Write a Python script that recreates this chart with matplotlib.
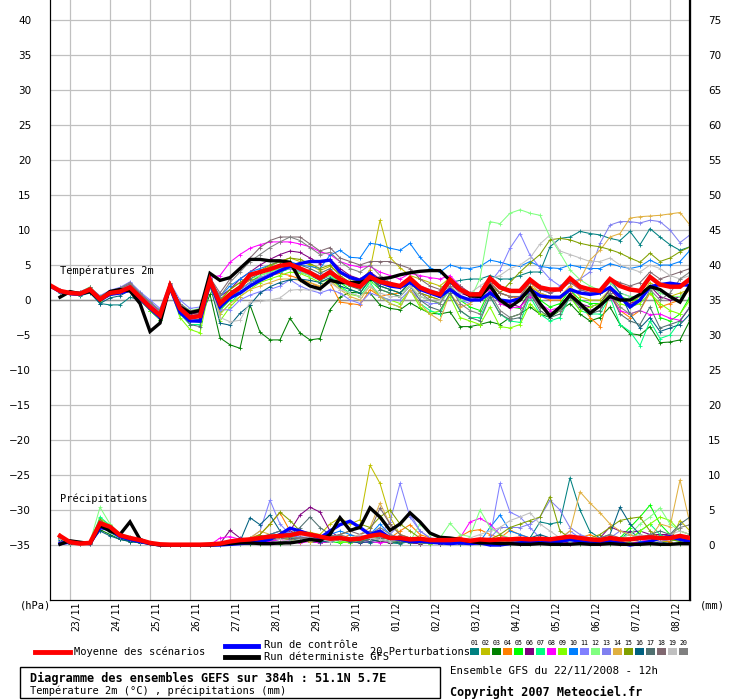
import numpy as np
import matplotlib
matplotlib.use("Agg")
from matplotlib import pyplot as plt
from matplotlib.lines import Line2D
from matplotlib.patches import Rectangle
from matplotlib.transforms import ScaledTranslation

nan = np.nan

# time axis: hours after 22/11/2008 12h, one value every 6 h
hours = np.arange(0, 385, 6)
day_ticks = np.arange(12, 384, 24)
day_labels = ["23/11", "24/11", "25/11", "26/11", "27/11", "28/11", "29/11", "30/11",
              "01/12", "02/12", "03/12", "04/12", "05/12", "06/12", "07/12", "08/12"]

# ---- temperature 2m (C) ----
temp_mean = [2.1, 1.3, 1.0, 0.9, 1.5, 0.1, 1.0, 1.2, 1.8, 0.4, -1.0, -2.2, 2.0,
             -1.2, -2.5, -2.3, 2.8, -0.5, 0.8, 1.8, 3.6, 4.0, 4.4, 4.9, 5.1, 4.5,
             3.9, 3.1, 4.0, 3.0, 2.3, 1.9, 3.3, 2.6, 2.3, 2.0, 3.1, 1.8, 1.2,
             0.8, 2.9, 1.5, 0.8, 0.8, 3.1, 1.8, 1.3, 1.3, 2.9, 1.8, 1.5, 1.5,
             3.1, 1.9, 1.5, 1.3, 3.0, 2.0, 1.5, 1.3, 3.3, 2.2, 1.9, 1.9, 3.0]
temp_ctrl = [2.0, 1.2, 0.9, 0.8, 1.3, 0.0, 0.8, 1.0, 1.4, 0.2, -1.2, -2.5, 1.8,
             -1.8, -3.0, -3.0, 2.5, -1.0, 0.3, 1.0, 2.0, 2.8, 3.5, 4.2, 4.8, 5.2,
             5.5, 5.5, 5.7, 4.0, 3.2, 2.8, 3.8, 2.5, 2.0, 1.8, 2.5, 1.5, 1.0,
             0.5, 1.5, 0.5, 0.0, 0.0, 1.0, 0.0, -0.2, 0.2, 1.5, 0.6, 0.4, 0.4,
             1.5, 1.0, 0.8, 1.0, 1.8, 0.5, -1.0, 0.0, 1.9, 2.2, 2.4, 2.2, 2.1]
temp_det = [nan, 0.4, 1.2, 0.9, 1.2, 0.0, 1.2, 1.5, 1.3, -0.5, -4.5, -3.3, 2.0,
            -1.0, -1.8, -1.5, 3.8, 2.8, 3.2, 4.5, 5.8, 5.8, 5.6, 5.6, 5.4, 2.9,
            2.0, 1.6, 2.8, 2.5, 2.5, 2.5, 3.0, 3.0, 3.2, 3.6, 3.9, 4.1, 4.2,
            4.2, 2.8, 1.5, 0.6, 0.5, 2.0, 0.0, -1.0, 0.0, 1.7, -0.5, -2.3, -1.0,
            0.7, -0.5, -1.9, -0.8, 0.5, 0.0, 0.0, 0.8, 1.9, 1.5, 0.5, -0.3, 2.1]

temp_p01 = [2.0, 1.0, 0.8, 0.6, 1.0, -0.5, -0.7, -0.7, 0.4, 0.0, -1.5, -2.8, 1.5, -1.8, -3.0, -3.2, 2.2,
            -1.0, 0.5, 1.5, 2.5, 3.0, 3.5, 4.0, 4.5, 4.0, 3.5, 2.8, 3.5, 2.5, 2.0, 1.8, 3.0,
            2.5, 2.0, 1.8, 2.8, 1.5, 1.0, 0.5, 2.5, 2.8, 3.0, 3.0, 3.5, 3.0, 3.0, 3.5, 4.0,
            4.0, 7.6, 8.8, 9.0, 9.8, 9.5, 9.3, 8.8, 8.5, 9.8, 7.9, 10.2, 9.0, 7.9, 7.1, 7.6]
temp_p02 = [2.1, 1.3, 1.1, 1.0, 1.8, 0.3, 1.2, 1.5, 2.2, 0.8, -0.5, -1.8, 2.2, -0.8, -2.0, -1.8, 3.0,
            0.0, 1.5, 2.5, 3.5, 4.0, 4.8, 5.5, 6.0, 5.5, 5.0, 4.2, 4.8, 3.8, 3.0, 2.5, 4.3,
            11.4, 6.1, 4.6, 3.5, 3.0, 2.5, 2.0, 3.2, 2.0, 1.0, 0.5, 2.5, 1.0, 0.5, 0.5, 2.0,
            1.0, 0.5, 0.5, 2.0, 0.5, 0.0, 0.0, 1.5, 0.0, -0.5, 0.5, 2.5, 1.5, 0.5, 1.0, 1.5]
temp_p03 = [2.0, 1.2, 0.9, 0.8, 1.2, -0.2, 0.8, 1.0, 1.5, 0.2, -1.2, -2.5, 1.8, -1.5, -3.0, -2.8, 0.8,
            -5.4, -6.4, -6.9, -0.7, -4.6, -5.7, -5.7, -2.6, -4.7, -5.7, -5.5, -1.4, 0.4, 1.1, 1.0, 1.0,
            -0.7, -1.2, -1.4, -0.4, -1.2, -1.9, -2.0, -1.7, -3.8, -3.8, -3.5, -3.1, -3.5, -2.5, -2.0, -1.0,
            -2.0, -2.5, -1.5, -0.5, -2.0, -3.0, -2.5, -1.0, -3.5, -4.8, -5.0, -3.8, -6.1, -6.0, -5.7, -2.9]
temp_p04 = [2.1, 1.2, 1.0, 0.9, 1.4, 0.0, 1.0, 1.3, 2.0, 0.5, -0.8, -2.0, 2.0, -1.0, -2.2, -2.0, 3.0,
            0.0, 1.0, 2.0, 2.8, 3.2, 3.5, 3.8, 3.5, 3.0, 2.5, 1.8, 2.5, -0.3, -0.5, -0.7, 1.5,
            0.5, 0.8, 1.0, 2.5, 1.0, 0.5, 0.0, 2.0, 1.5, 1.0, 1.0, 2.5, 1.0, 0.5, 0.2, 2.0,
            0.5, 0.0, 0.0, 1.5, -0.5, -2.5, -3.8, 1.0, -1.5, -2.5, -1.5, 1.0, -1.0, -0.5, 0.0, 1.5]
temp_p05 = [2.1, 1.3, 1.0, 1.0, 1.8, 0.2, 1.0, 1.2, 1.6, 0.3, -1.3, -2.5, 1.6, -1.5, -3.0, -2.8, 2.5,
            -1.5, 0.0, 1.5, 2.5, 3.5, 4.0, 4.5, 4.8, 4.5, 4.0, 3.0, 3.8, 2.5, 1.5, 1.0, 2.8,
            1.5, 1.0, 0.5, 2.0, 0.5, 0.0, -0.5, 1.5, 0.0, -1.0, -1.5, 1.5, -0.5, -1.0, -1.2, 1.5,
            0.0, -1.0, -0.5, 1.5, 0.0, -0.5, -0.5, 1.5, 0.5, 0.0, 0.0, 2.0, -2.5, -3.0, -2.0, 0.5]
temp_p06 = [2.1, 1.2, 1.0, 0.8, 1.5, 0.2, 1.1, 1.4, 2.0, 0.6, -0.8, -2.0, 2.2, -0.8, -2.0, -1.8, 3.0,
            0.5, 1.5, 3.0, 4.0, 5.0, 5.8, 6.5, 7.0, 6.8, 6.0, 5.2, 5.8, 4.5, 3.5, 3.0, 4.0,
            3.0, 2.5, 2.0, 3.0, 1.5, 1.0, 0.5, 2.5, 1.0, 0.5, 0.0, 2.5, 0.0, -0.5, -1.0, 1.0,
            -0.5, -2.0, -1.0, 1.0, -0.5, -1.0, -0.5, 1.5, 0.0, -0.5, 0.0, 2.0, 0.5, 0.0, 0.5, 1.5]
temp_p07 = [2.0, 1.1, 0.9, 0.8, 1.5, -0.3, 0.8, 1.0, 1.5, 0.0, -1.5, -2.8, 1.5, -2.0, -3.5, -3.5, 2.0,
            -2.0, -0.5, 1.0, 2.0, 3.0, 3.5, 4.0, 4.5, 4.2, 3.8, 3.0, 3.5, 2.0, 1.0, 0.5, 2.5,
            0.5, -0.5, -1.0, 1.5, -0.5, -1.5, -2.0, 1.0, -1.5, -2.5, -2.5, 0.5, -2.0, -3.0, -3.2, 0.5,
            -2.0, -3.0, -2.5, 0.5, -1.5, -2.0, -2.0, 0.5, -3.5, -4.5, -6.5, -3.0, -5.5, -5.0, -3.0, -1.0]
temp_p08 = [2.1, 1.3, 1.1, 1.0, 1.6, 0.3, 1.3, 1.5, 2.2, 0.7, -0.6, -1.8, 2.3, -0.6, -1.8, -1.5, 3.2,
            3.5, 5.4, 6.5, 7.4, 7.9, 8.3, 8.3, 8.3, 8.0, 7.6, 6.9, 6.5, 5.5, 5.0, 4.7, 4.8,
            4.0, 3.5, 3.0, 3.8, 3.5, 3.2, 3.0, 3.5, 2.0, 1.0, 0.5, 1.5, -0.5, -1.1, -1.0, 0.5,
            -0.5, -1.5, -1.0, 0.5, -1.0, -1.5, -1.0, 0.5, -1.5, -2.0, -1.5, -2.1, -2.0, -2.6, -2.9, -1.0]
temp_p09 = [2.0, 1.1, 0.8, 0.7, 1.3, -0.2, 0.7, 1.0, 1.4, 0.0, -1.5, -2.8, 1.6, -2.5, -4.2, -4.7, 2.0,
            -3.0, -1.0, 0.5, 1.5, 2.5, 3.0, 3.5, 4.0, 3.8, 3.2, 2.5, 3.0, 1.8, 0.8, 0.5, 2.0,
            0.5, 0.0, -0.5, 1.5, -1.0, -2.0, -1.5, 0.5, -2.5, -3.0, -3.5, -1.0, -3.8, -4.0, -3.5, -0.5,
            -2.0, -2.0, -1.5, 0.5, -1.5, -1.0, -0.5, 1.0, -0.5, -1.0, -0.5, 1.0, -0.5, -1.5, -2.0, 0.0]
temp_p10 = [2.1, 1.3, 1.0, 0.9, 1.5, 0.1, 1.0, 1.3, 1.8, 0.4, -1.0, -2.2, 2.0, -1.0, -2.3, -2.0, 2.8,
            0.5, 2.0, 3.0, 4.0, 4.5, 5.0, 5.5, 5.5, 5.0, 4.8, 4.5, 6.4, 7.1, 6.1, 6.0, 8.1,
            7.9, 7.4, 7.1, 8.1, 6.1, 4.6, 4.0, 5.0, 4.6, 4.5, 4.8, 5.7, 5.4, 5.0, 4.8, 5.5,
            4.8, 4.6, 4.5, 5.0, 4.7, 4.5, 4.5, 5.2, 4.8, 4.5, 4.8, 5.7, 5.0, 5.0, 5.5, 7.1]
temp_p11 = [2.2, 1.4, 1.2, 1.2, 1.8, 0.6, 1.4, 1.8, 2.6, 1.2, 0.0, -1.2, 2.5, 0.0, -1.2, -1.0, 3.0,
            -1.4, -1.4, 0.0, 0.7, 1.2, 1.5, 2.0, 2.9, 2.0, 1.4, 1.0, 1.5, 1.0, 0.0, -0.5, 1.0,
            0.5, 0.0, 0.0, 1.5, 0.0, -0.5, -0.5, 1.5, 0.0, -0.5, 1.0, 2.5, 4.3, 7.4, 9.5, 6.4,
            4.6, 3.0, 2.0, 3.0, 1.5, 1.0, 1.0, 2.5, 1.0, 0.5, 0.5, 2.0, 1.0, 0.5, 0.5, 1.5]
temp_p12 = [2.1, 1.3, 1.2, 1.1, 1.9, 0.4, 1.3, 1.6, 2.3, 0.9, -0.3, -1.5, 2.4, -0.5, -1.5, -1.2, 3.2,
            -0.5, 1.0, 2.0, 3.0, 3.5, 4.0, 4.5, 4.5, 4.0, 3.5, 3.0, 3.5, 2.5, 2.0, 1.5, 2.5,
            2.0, 1.5, 1.0, 2.0, 0.5, 0.0, -0.5, 1.5, 0.0, 0.0, 3.1, 11.2, 10.9, 12.4, 12.9, 12.4,
            12.1, 9.0, 6.7, 4.3, 2.9, 2.0, 1.4, 2.5, 1.0, 0.5, 0.5, 2.0, 1.0, 0.5, 0.5, 1.5]
temp_p13 = [2.0, 1.2, 1.0, 0.9, 1.6, 0.2, 1.2, 1.6, 2.4, 1.0, -0.2, -1.5, 2.2, -0.5, -1.8, -1.5, 2.8,
            -1.0, 0.5, 1.5, 2.5, 3.2, 3.8, 4.2, 4.5, 4.2, 4.0, 3.5, 4.0, 3.0, 2.5, 2.0, 3.5,
            2.5, 2.0, 1.8, 3.0, 2.0, 1.5, 1.0, 2.8, 1.5, 1.0, 1.0, 2.5, 1.0, 0.5, 0.5, 2.5,
            1.5, 1.0, 1.5, 2.5, 3.0, 4.0, 8.1, 10.7, 11.2, 11.2, 11.0, 11.4, 11.2, 10.0, 8.2, 9.3]
temp_p14 = [2.1, 1.2, 1.0, 0.9, 1.5, 0.0, 1.0, 1.2, 1.8, 0.3, -1.0, -2.3, 1.8, -1.2, -2.5, -2.3, 2.5,
            -2.0, -0.5, 0.5, 1.5, 2.0, 2.5, 3.0, 3.0, 2.8, 2.5, 2.0, 2.8, 1.5, 0.5, 0.0, 2.0,
            0.5, -0.5, -1.0, 1.5, -0.5, -2.0, -2.9, 1.0, -1.0, -0.5, 0.5, 2.5, 1.0, 0.5, 0.5, 2.5,
            1.0, 0.5, 0.5, 2.0, 2.9, 5.7, 7.1, 9.0, 9.5, 11.7, 11.9, 12.0, 12.1, 12.3, 12.5, 10.7]
temp_p15 = [2.0, 1.2, 1.0, 0.9, 1.5, 0.1, 1.0, 1.3, 1.8, 0.4, -1.0, -2.2, 2.0, -1.2, -2.5, -2.3, 2.7,
            0.0, 1.5, 2.5, 3.5, 4.2, 5.0, 5.5, 6.0, 5.8, 5.2, 4.5, 5.0, 3.5, 2.5, 2.0, 3.5,
            2.0, 1.5, 1.0, 2.5, 1.0, 0.5, 0.0, 2.0, 0.5, 0.0, 0.0, 2.0, 1.0, 2.5, 4.0, 5.3,
            6.5, 8.6, 8.8, 8.6, 8.1, 7.8, 7.6, 7.2, 6.7, 6.0, 5.4, 6.7, 5.5, 6.0, 6.9, 7.6]
temp_p16 = [2.0, 1.1, 0.9, 0.7, 1.2, -0.5, 0.3, 0.6, 1.4, 0.0, -1.3, -2.6, 1.7, -1.6, -3.0, -3.0, 2.2,
            -3.3, -3.6, -1.9, -0.7, 1.0, 1.9, 2.5, 2.9, 3.0, 2.8, 2.5, 3.2, 2.0, 1.5, 1.0, 3.0,
            2.0, 1.5, 1.0, 2.5, 1.5, 1.0, 0.5, 2.5, 1.5, 1.0, 1.0, 2.8, 2.0, 1.5, 1.5, 3.0,
            2.0, 1.5, 1.5, 3.0, 2.0, 1.5, 1.0, 3.0, 1.0, -2.0, -4.0, -2.5, -4.5, -4.0, -3.5, -2.0]
temp_p17 = [2.1, 1.2, 1.0, 0.9, 1.5, 0.0, 1.0, 1.2, 1.7, 0.3, -1.2, -2.5, 1.8, -1.8, -3.5, -3.8, 2.5,
            -1.0, 1.0, 2.0, 3.0, 3.8, 4.5, 5.0, 5.2, 5.0, 4.5, 3.8, 4.5, 3.0, 2.0, 1.5, 3.5,
            1.5, 1.0, 0.5, 2.0, 0.0, -1.0, -1.5, 1.0, -1.5, -2.5, -3.0, 0.5, -2.0, -2.8, -2.5, 1.0,
            -1.5, -2.5, -2.0, 0.5, -1.0, -2.0, -1.5, 1.0, -2.0, -3.0, -3.5, -1.0, -4.0, -3.5, -3.0, -1.0]
temp_p18 = [2.2, 1.4, 1.2, 1.1, 1.8, 0.5, 1.3, 1.6, 2.3, 0.9, -0.4, -1.6, 2.4, -0.5, -1.6, -1.3, 3.2,
            1.0, 3.0, 4.5, 6.0, 7.5, 8.5, 9.0, 9.0, 9.0, 8.0, 7.0, 7.5, 6.0, 5.5, 5.0, 5.5,
            5.5, 5.5, 5.0, 4.5, 3.0, 2.0, 1.5, 3.0, 2.0, 1.0, 0.5, 2.5, 1.0, 0.5, 0.5, 2.5,
            1.5, 1.0, 1.5, 2.5, 1.5, 1.0, 1.5, 3.0, 2.5, 2.0, 2.5, 4.0, 3.0, 3.5, 4.0, 4.5]
temp_p19 = [2.0, 1.2, 1.0, 0.9, 1.5, 0.1, 1.1, 1.3, 1.8, 0.4, -1.0, -2.3, 1.8, -1.3, -2.6, -2.5, 2.4,
            -2.5, -3.1, -2.9, -0.3, -0.2, 0.0, 0.3, 1.4, 1.5, 1.4, 1.5, 2.5, 1.5, 1.0, 0.5, 2.0,
            1.0, 0.5, 0.5, 2.0, 0.5, 0.0, 0.0, 2.0, 1.0, 1.0, 2.0, 3.0, 3.5, 4.5, 5.0, 6.0,
            8.0, 9.3, 7.0, 6.5, 6.0, 5.5, 5.5, 6.0, 5.0, 4.5, 4.0, 5.0, 4.5, 3.5, 3.0, 3.5]
temp_p20 = [2.1, 1.3, 1.1, 1.0, 1.7, 0.4, 1.3, 1.7, 2.5, 1.0, -0.3, -1.5, 2.3, -0.6, -1.8, -1.5, 3.0,
            0.5, 2.5, 4.0, 5.5, 6.5, 7.5, 8.3, 9.0, 8.5, 7.5, 6.5, 6.8, 5.5, 4.5, 4.0, 5.0,
            3.5, 2.5, 2.0, 3.0, 1.0, 0.0, -0.5, 2.0, -0.5, -1.5, -2.0, 1.0, -1.5, -2.5, -2.0, 1.0,
            -1.0, -2.0, -1.5, 0.5, -0.5, -1.5, -1.0, 1.0, -1.0, -2.0, -1.5, 1.5, 0.0, 1.0, 3.0, 4.0]

# ---- precipitation (mm / 6h) ----
prec_mean = [nan, 1.3, 0.4, 0.2, 0.3, 3.1, 2.6, 1.4, 1.0, 0.7, 0.3, 0.1, 0.05,
             0.05, 0.05, 0.05, 0.1, 0.2, 0.5, 0.7, 0.8, 1.0, 1.2, 1.3, 1.4, 1.7,
             1.5, 1.2, 0.9, 1.0, 0.8, 0.9, 1.3, 1.5, 1.0, 1.0, 0.8, 0.9, 0.7,
             0.7, 0.7, 0.8, 0.6, 0.8, 0.7, 0.8, 0.8, 0.9, 0.8, 0.9, 0.8, 1.0,
             1.2, 1.0, 0.8, 0.7, 1.0, 0.8, 0.8, 1.0, 1.1, 1.0, 1.0, 1.3, 1.0]
prec_ctrl = [nan, 0.2, 0.4, 0.3, 0.2, 2.5, 2.2, 1.2, 0.8, 0.5, 0.2, 0.0, 0.0,
             0.0, 0.0, 0.0, 0.0, 0.0, 0.1, 0.2, 0.3, 0.5, 0.8, 1.5, 2.4, 2.0,
             1.5, 1.0, 2.0, 2.9, 3.4, 2.5, 1.5, 2.0, 1.0, 0.8, 0.5, 0.5, 0.4,
             0.3, 0.2, 0.3, 0.2, 0.3, 0.0, 0.0, 0.2, 0.3, 0.5, 0.3, 0.5, 0.5,
             0.8, 0.5, 0.3, 0.3, 0.5, 0.3, 0.0, 0.2, 0.5, 1.0, 1.2, 0.8, 0.5]
prec_det = [nan, 0.1, 0.6, 0.4, 0.2, 2.8, 2.0, 1.5, 3.3, 0.8, 0.2, 0.0, 0.0,
            0.0, 0.0, 0.0, 0.0, 0.1, 0.2, 0.3, 0.3, 0.2, 0.2, 0.3, 0.3, 0.5,
            0.8, 0.6, 1.5, 3.9, 2.1, 2.5, 5.3, 4.0, 2.1, 3.0, 4.6, 3.3, 1.7,
            1.1, 1.0, 0.8, 0.5, 0.3, 0.3, 0.2, 0.2, 0.1, 0.1, 0.2, 0.1, 0.1,
            0.1, 0.2, 0.1, 0.1, 0.2, 0.1, 0.1, 0.1, 0.2, 0.1, 0.1, 0.2, 0.2]

prec_p01 = [nan, 0.8, 0.3, 0.2, 0.2, 2.8, 1.8, 1.0, 0.6, 0.4, 0.1, 0.0, 0.0,
            0.0, 0.0, 0.0, 0.0, 0.1, 0.2, 0.3, 0.5, 0.8, 0.5, 0.3, 0.6, 1.0,
            0.5, 0.3, 0.5, 0.8, 1.0, 0.5, 0.3, 0.5, 0.3, 0.2, 0.5, 0.3, 0.2,
            0.2, 0.3, 0.2, 0.1, 0.3, 0.5, 0.3, 0.2, 0.5, 1.0, 3.3, 3.0, 3.3,
            9.6, 5.0, 1.9, 1.0, 0.5, 0.8, 2.0, 1.0, 0.5, 0.3, 0.5, 1.0, 0.5]
prec_p02 = [nan, 1.0, 0.4, 0.3, 0.3, 3.8, 2.8, 1.5, 1.0, 0.6, 0.2, 0.0, 0.0,
            0.0, 0.0, 0.0, 0.0, 0.1, 0.3, 0.5, 0.5, 0.8, 1.0, 1.2, 1.5, 2.0,
            1.8, 1.5, 3.0, 3.9, 3.0, 3.6, 11.4, 8.8, 4.0, 1.5, 1.0, 0.8, 0.5,
            0.5, 0.3, 0.5, 0.8, 0.5, 0.3, 0.5, 0.8, 0.5, 0.3, 0.5, 0.3, 0.5,
            0.8, 0.5, 0.3, 0.5, 1.0, 0.5, 0.3, 0.5, 0.8, 0.5, 0.5, 3.5, 2.0]
prec_p03 = [nan, 0.6, 0.2, 0.1, 0.2, 2.2, 1.5, 0.8, 0.5, 0.3, 0.1, 0.0, 0.0,
            0.0, 0.0, 0.0, 0.0, 0.0, 0.0, 0.1, 0.1, 0.2, 0.2, 0.1, 0.3, 0.5,
            0.5, 0.3, 0.5, 0.8, 1.0, 0.5, 0.8, 1.2, 0.8, 0.5, 0.3, 0.2, 0.3,
            0.2, 0.2, 0.3, 0.2, 0.1, 0.2, 0.1, 0.2, 0.1, 0.1, 0.2, 0.1, 0.1,
            0.2, 0.1, 0.1, 0.2, 0.1, 0.1, 0.2, 0.1, 0.1, 0.2, 0.1, 0.1, 0.1]
prec_p04 = [nan, 1.5, 0.3, 0.2, 0.3, 3.5, 2.5, 1.2, 0.8, 0.5, 0.2, 0.0, 0.0,
            0.0, 0.0, 0.0, 0.0, 0.1, 0.3, 0.6, 1.0, 1.5, 3.0, 4.6, 2.0, 1.2,
            0.8, 0.5, 1.0, 0.8, 1.5, 1.0, 0.8, 1.5, 1.0, 2.0, 2.9, 1.5, 1.0,
            0.5, 0.8, 1.2, 2.0, 2.2, 1.5, 1.0, 2.1, 1.5, 1.0, 0.8, 0.5, 0.5,
            0.8, 1.0, 1.5, 0.8, 0.5, 0.5, 0.8, 1.0, 0.5, 0.8, 0.5, 1.0, 0.5]
prec_p05 = [nan, 1.0, 0.3, 0.2, 0.2, 3.0, 2.0, 1.2, 0.8, 0.5, 0.2, 0.0, 0.0,
            0.0, 0.0, 0.0, 0.0, 0.1, 0.2, 0.3, 0.5, 0.5, 0.8, 1.0, 0.8, 0.5,
            0.5, 0.8, 0.5, 0.3, 0.5, 1.0, 0.8, 0.5, 0.3, 0.5, 1.0, 0.5, 0.3,
            0.3, 0.5, 0.8, 0.5, 0.3, 0.5, 0.3, 0.5, 0.8, 0.5, 0.3, 0.5, 0.8,
            1.0, 0.5, 0.3, 0.5, 0.8, 1.0, 2.5, 4.0, 5.7, 3.0, 1.5, 1.0, 0.8]
prec_p06 = [nan, 0.8, 0.4, 0.3, 0.2, 3.0, 2.2, 1.3, 0.8, 0.5, 0.2, 0.0, 0.0,
            0.0, 0.0, 0.0, 0.0, 0.2, 2.1, 1.0, 0.8, 0.5, 0.5, 1.0, 2.0, 4.3,
            5.4, 4.7, 2.0, 1.0, 0.8, 0.5, 0.8, 0.5, 0.3, 0.5, 0.3, 0.2, 0.3,
            0.2, 0.3, 0.2, 0.5, 0.3, 0.2, 0.5, 0.3, 0.2, 0.3, 0.5, 0.3, 0.5,
            0.3, 0.5, 0.8, 1.0, 2.6, 2.0, 1.8, 2.0, 1.5, 1.5, 1.5, 1.2, 1.0]
prec_p07 = [nan, 1.2, 0.4, 0.2, 0.3, 4.0, 2.8, 1.5, 1.0, 0.6, 0.2, 0.0, 0.0,
            0.0, 0.0, 0.0, 0.0, 0.1, 0.2, 0.3, 0.5, 0.8, 0.5, 0.8, 1.2, 0.8,
            0.5, 0.5, 0.8, 0.5, 0.3, 0.5, 1.0, 1.5, 0.8, 0.5, 0.3, 0.5, 0.3,
            0.5, 0.3, 0.2, 0.5, 0.3, 0.2, 0.5, 0.8, 0.5, 0.3, 0.5, 1.0, 0.8,
            0.5, 0.8, 0.5, 0.3, 0.5, 0.8, 0.5, 2.0, 3.0, 1.5, 0.8, 0.5, 0.3]
prec_p08 = [nan, 0.5, 0.3, 0.2, 0.2, 3.2, 2.4, 1.4, 1.0, 0.6, 0.2, 0.0, 0.0,
            0.0, 0.0, 0.0, 0.0, 1.0, 1.2, 0.8, 0.8, 0.5, 0.5, 0.8, 0.5, 0.3,
            0.5, 0.3, 0.5, 0.8, 0.5, 0.3, 0.5, 0.3, 0.5, 0.8, 0.5, 0.3, 1.0,
            0.5, 0.3, 1.0, 3.3, 3.8, 3.0, 1.5, 0.8, 0.5, 0.5, 0.3, 0.5, 0.3,
            0.2, 0.5, 0.3, 0.2, 0.5, 0.3, 0.2, 0.5, 0.8, 1.0, 1.5, 1.0, 0.8]
prec_p09 = [nan, 1.1, 0.3, 0.2, 0.3, 3.5, 2.5, 1.3, 0.9, 0.5, 0.2, 0.0, 0.0,
            0.0, 0.0, 0.0, 0.0, 0.1, 0.2, 0.3, 0.5, 0.5, 0.8, 1.0, 0.8, 0.5,
            0.5, 0.8, 1.0, 0.5, 0.3, 0.8, 1.0, 0.8, 0.5, 0.3, 0.5, 0.3, 0.2,
            0.3, 0.5, 0.3, 0.2, 0.5, 0.8, 0.5, 0.3, 0.5, 0.8, 0.5, 0.3, 0.5,
            1.0, 0.8, 0.5, 0.5, 0.8, 1.0, 0.8, 2.0, 3.0, 4.0, 3.5, 2.0, 1.5]
prec_p10 = [nan, 0.7, 0.3, 0.2, 0.2, 2.6, 2.0, 1.2, 0.8, 0.5, 0.2, 0.0, 0.0,
            0.0, 0.0, 0.0, 0.0, 0.1, 0.2, 0.5, 0.8, 1.0, 1.5, 2.0, 1.5, 1.0,
            0.8, 1.0, 1.5, 2.0, 1.5, 1.0, 1.5, 3.0, 1.5, 1.0, 0.8, 0.5, 0.5,
            0.3, 0.5, 0.8, 0.5, 0.5, 2.5, 4.3, 2.0, 1.5, 1.0, 0.8, 0.5, 0.5,
            0.5, 0.8, 1.0, 0.5, 0.5, 0.8, 1.0, 0.5, 0.5, 0.8, 1.0, 0.8, 0.5]
prec_p11 = [nan, 1.0, 0.4, 0.3, 0.3, 3.3, 2.6, 1.5, 1.1, 0.7, 0.3, 0.0, 0.0,
            0.0, 0.0, 0.0, 0.0, 0.1, 0.3, 0.6, 1.0, 2.0, 6.4, 3.0, 1.5, 1.0,
            0.8, 0.5, 0.8, 1.0, 0.8, 1.0, 1.5, 1.5, 3.3, 8.8, 4.0, 2.0, 1.0,
            0.8, 0.5, 0.5, 0.8, 0.5, 1.0, 8.8, 4.7, 4.0, 2.5, 1.0, 1.0, 0.8,
            2.0, 1.0, 0.8, 0.5, 0.8, 1.0, 1.5, 1.0, 0.8, 0.5, 0.8, 1.0, 0.5]
prec_p12 = [nan, 1.3, 0.5, 0.3, 0.4, 5.4, 3.0, 1.6, 1.2, 0.8, 0.3, 0.0, 0.0,
            0.0, 0.0, 0.0, 0.0, 0.1, 0.2, 0.4, 0.6, 0.8, 1.0, 1.5, 1.2, 0.8,
            0.6, 0.8, 1.0, 0.8, 0.6, 0.8, 1.0, 1.2, 0.8, 0.6, 0.5, 3.0, 1.5,
            1.0, 3.1, 1.5, 1.2, 5.0, 2.5, 1.5, 1.0, 0.8, 0.5, 0.8, 1.0, 0.8,
            0.8, 0.5, 0.8, 1.0, 0.8, 1.0, 1.5, 3.0, 4.0, 5.3, 3.0, 2.0, 1.5]
prec_p13 = [nan, 0.9, 0.3, 0.2, 0.3, 3.0, 2.2, 1.3, 0.9, 0.5, 0.2, 0.0, 0.0,
            0.0, 0.0, 0.0, 0.0, 0.1, 0.3, 0.5, 0.8, 1.0, 1.5, 2.0, 1.8, 1.2,
            1.0, 0.8, 0.5, 0.8, 1.0, 1.2, 0.8, 1.0, 1.5, 3.0, 4.5, 2.0, 1.0,
            0.8, 0.5, 0.3, 0.5, 0.8, 1.0, 2.5, 2.5, 2.5, 3.0, 4.0, 6.4, 5.0,
            2.5, 1.5, 1.0, 0.8, 1.0, 2.0, 1.5, 1.0, 0.8, 1.0, 1.5, 1.0, 0.8]
prec_p14 = [nan, 0.9, 0.3, 0.2, 0.2, 3.2, 2.4, 1.3, 0.9, 0.5, 0.2, 0.0, 0.0,
            0.0, 0.0, 0.0, 0.0, 0.1, 0.2, 0.5, 1.0, 2.0, 1.5, 1.0, 0.8, 0.5,
            0.5, 0.8, 1.0, 0.8, 1.0, 1.5, 2.5, 6.0, 3.0, 1.5, 1.0, 0.8, 0.5,
            0.5, 0.3, 0.5, 0.8, 0.5, 0.3, 0.5, 0.8, 1.0, 0.8, 1.0, 0.5, 1.0,
            2.0, 7.6, 6.0, 4.6, 3.0, 2.0, 1.5, 1.0, 1.0, 3.0, 2.6, 9.3, 3.0]
prec_p15 = [nan, 1.1, 0.4, 0.3, 0.3, 3.6, 2.6, 1.4, 1.0, 0.6, 0.2, 0.0, 0.0,
            0.0, 0.0, 0.0, 0.0, 0.1, 0.3, 0.5, 0.8, 1.5, 3.0, 4.7, 3.5, 2.0,
            1.5, 1.0, 1.0, 1.5, 2.0, 3.0, 2.5, 4.0, 5.0, 3.0, 2.0, 1.0, 0.8,
            0.5, 0.5, 0.8, 0.5, 0.5, 0.8, 1.5, 2.5, 3.0, 3.5, 4.0, 6.9, 2.0,
            1.0, 0.8, 1.0, 1.5, 2.5, 3.5, 3.8, 4.0, 2.0, 1.0, 0.8, 0.5, 0.8]
prec_p16 = [nan, 0.7, 0.2, 0.2, 0.2, 2.0, 1.3, 0.8, 0.5, 0.3, 0.1, 0.0, 0.0,
            0.0, 0.0, 0.0, 0.0, 0.1, 0.2, 0.5, 3.9, 2.9, 4.3, 2.0, 1.0, 0.8,
            0.8, 0.5, 0.5, 0.8, 0.5, 0.3, 0.5, 0.8, 0.5, 0.3, 0.5, 0.8, 0.5,
            0.3, 0.5, 0.3, 0.2, 0.5, 0.3, 0.2, 0.5, 0.8, 1.0, 1.5, 1.0, 0.8,
            1.0, 0.8, 0.5, 1.0, 1.5, 5.4, 3.0, 1.5, 1.0, 0.8, 1.0, 0.8, 0.5]
prec_p17 = [nan, 1.0, 0.3, 0.2, 0.3, 3.0, 2.2, 1.3, 0.9, 0.5, 0.2, 0.0, 0.0,
            0.0, 0.0, 0.0, 0.0, 0.1, 0.3, 0.5, 0.8, 1.2, 1.5, 2.0, 1.5, 2.5,
            4.0, 2.5, 1.5, 1.0, 0.8, 0.5, 0.8, 1.0, 0.8, 0.5, 0.3, 0.5, 0.3,
            0.5, 0.3, 0.2, 0.5, 0.3, 0.5, 0.8, 0.5, 0.3, 0.5, 0.8, 0.5, 1.0,
            0.8, 0.5, 0.8, 1.0, 0.8, 0.5, 0.8, 1.0, 1.5, 2.0, 1.5, 3.0, 4.0]
prec_p18 = [nan, 1.2, 0.4, 0.3, 0.3, 3.4, 2.6, 1.5, 1.0, 0.6, 0.2, 0.0, 0.0,
            0.0, 0.0, 0.0, 0.0, 0.1, 0.3, 0.5, 0.8, 1.0, 1.2, 1.0, 0.8, 1.0,
            1.2, 1.0, 0.8, 1.5, 2.0, 1.5, 2.0, 5.3, 3.0, 1.5, 1.0, 0.8, 0.5,
            0.5, 0.3, 0.5, 0.8, 0.5, 0.3, 0.5, 0.8, 0.5, 0.3, 0.5, 0.8, 0.5,
            0.8, 0.5, 0.8, 1.0, 0.8, 0.5, 0.8, 1.0, 1.5, 1.0, 0.8, 1.0, 1.5]
prec_p19 = [nan, 0.9, 0.3, 0.2, 0.2, 2.8, 2.0, 1.2, 0.8, 0.5, 0.2, 0.0, 0.0,
            0.0, 0.0, 0.0, 0.0, 0.1, 0.2, 0.3, 0.5, 0.8, 1.0, 0.8, 0.5, 0.8,
            1.0, 0.8, 0.5, 0.8, 1.0, 1.5, 1.0, 0.8, 0.5, 0.8, 1.0, 0.8, 0.5,
            0.3, 0.5, 0.8, 1.0, 1.5, 2.0, 2.5, 3.5, 4.0, 4.6, 3.0, 2.0, 1.0,
            0.5, 0.8, 1.0, 0.8, 0.5, 0.8, 1.0, 1.5, 1.0, 0.8, 1.5, 2.0, 1.5]
prec_p20 = [nan, 1.1, 0.4, 0.3, 0.3, 3.3, 2.5, 1.4, 1.0, 0.6, 0.2, 0.0, 0.0,
            0.0, 0.0, 0.0, 0.0, 0.1, 0.3, 0.5, 0.8, 1.0, 1.2, 1.5, 1.2, 1.0,
            0.8, 1.0, 1.2, 1.5, 1.0, 0.8, 1.5, 2.5, 1.5, 1.0, 0.8, 0.5, 0.5,
            0.3, 0.5, 0.8, 0.5, 0.3, 0.5, 0.8, 0.5, 0.3, 0.5, 0.8, 0.5, 0.5,
            0.8, 0.5, 0.8, 1.0, 1.5, 1.0, 0.8, 1.0, 1.5, 1.0, 1.5, 2.5, 2.9]

pert_colors = ["#008080", "#c0c000", "#008000", "#ff8000", "#00ff00", "#800080", "#00ff80",
               "#ff00ff", "#80ff00", "#0080ff", "#8080ff", "#80ff80", "#8080f0", "#e0b040",
               "#80a000", "#006080", "#507070", "#806870", "#c0c0c0", "#808080"]
pert_temp = [temp_p01, temp_p02, temp_p03, temp_p04, temp_p05, temp_p06, temp_p07, temp_p08,
             temp_p09, temp_p10, temp_p11, temp_p12, temp_p13, temp_p14, temp_p15, temp_p16,
             temp_p17, temp_p18, temp_p19, temp_p20]
pert_prec = [prec_p01, prec_p02, prec_p03, prec_p04, prec_p05, prec_p06, prec_p07, prec_p08,
             prec_p09, prec_p10, prec_p11, prec_p12, prec_p13, prec_p14, prec_p15, prec_p16,
             prec_p17, prec_p18, prec_p19, prec_p20]

W, H = 740, 700
fig = plt.figure(figsize=(W / 100, H / 100), dpi=100)
fig.patch.set_facecolor("white")
ax = fig.add_axes([50 / W, 1 - 600 / H, 640 / W, 600 / H])
lim = 300 / 7.0
ax.set_xlim(0, 384)
ax.set_ylim(-lim, lim)
ax2 = ax.twinx()
ax2.set_ylim(-lim + 35, lim + 35)

mono = "DejaVu Sans Mono"

# grid
ax.set_xticks(day_ticks)
ax.set_yticks(np.arange(-35, 41, 5))
ax.grid(True, color="#c0c0c0", lw=0.9)
ax.axhline(0, color="#909090", lw=1.0, zorder=1)
ax.set_axisbelow(True)

for tt, pp, c in zip(pert_temp, pert_prec, pert_colors):
    kw = dict(color=c, lw=0.75, marker="+", ms=3, mew=0.6)
    ax.plot(hours, tt, zorder=2, **kw)
    ax2.plot(hours, pp, zorder=2, **kw)

for a, series, col, lw, z in [(ax, temp_ctrl, "#0000ff", 2.4, 3), (ax, temp_det, "black", 2.4, 4),
                              (ax, temp_mean, "#ff0000", 3.2, 5),
                              (ax2, prec_ctrl, "#0000ff", 2.4, 3), (ax2, prec_det, "black", 2.4, 4),
                              (ax2, prec_mean, "#ff0000", 3.2, 5)]:
    a.plot(hours, series, color=col, lw=lw, zorder=z, solid_joinstyle="miter")

# axes styling
for a in (ax, ax2):
    a.spines["top"].set_visible(False)
ax.spines["left"].set_color("black")
ax.spines["bottom"].set_color("black")
ax2.spines["right"].set_linewidth(1.6)
ax2.set_yticks(np.arange(0, 76, 5))
ax.tick_params(axis="y", length=0, pad=13.5, labelsize=7.5)
ax2.tick_params(axis="y", length=0, pad=13, labelsize=7.5)
ax.tick_params(axis="x", length=0, pad=1.5)
ax.set_xticklabels(day_labels, rotation=90, family=mono, fontsize=7, va="top")
shift = ScaledTranslation(6 / 100, 0, fig.dpi_scale_trans)
for lab in ax.get_xticklabels():
    lab.set_transform(lab.get_transform() + shift)

ax.text(10 / 640, 1 - 271 / 600, "Températures 2m", transform=ax.transAxes,
        family=mono, fontsize=7.5, va="center")
ax.text(10 / 640, 1 - 499 / 600, "Précipitations", transform=ax.transAxes,
        family=mono, fontsize=7.5, va="center")

def fx(px):
    return px / W

def fy(py):
    return 1 - py / H

fig.text(fx(20), fy(606), "(hPa)", family=mono, fontsize=7.5, va="center")
fig.text(fx(700), fy(606), "(mm)", family=mono, fontsize=7.5, va="center")

# legend
fig.add_artist(Line2D([fx(35), fx(70)], [fy(652), fy(652)], color="#ff0000", lw=3.5))
fig.text(fx(74), fy(652), "Moyenne des scénarios", family=mono, fontsize=7.5, va="center")
fig.add_artist(Line2D([fx(225), fx(258)], [fy(646), fy(646)], color="#0000ff", lw=3.5))
fig.add_artist(Line2D([fx(225), fx(258)], [fy(657), fy(657)], color="black", lw=3.5))
fig.text(fx(264), fy(645), "Run de contrôle", family=mono, fontsize=7.5, va="center")
fig.text(fx(264), fy(657), "Run déterministe GFS", family=mono, fontsize=7.5, va="center")
fig.text(fx(370), fy(652), "20 Perturbations", family=mono, fontsize=7.5, va="center")
for k, c in enumerate(pert_colors):
    x0 = 470 + 11 * k
    fig.add_artist(Rectangle((fx(x0), fy(655)), 9 / W, 7 / H, transform=fig.transFigure,
                             facecolor=c, edgecolor="none"))
    fig.text(fx(x0 + 4.5), fy(643), "%02d" % (k + 1), family=mono, fontsize=4.8,
             ha="center", va="center")

# title box
fig.add_artist(Rectangle((fx(20), fy(698)), 420 / W, 31 / H, transform=fig.transFigure,
                         facecolor="white", edgecolor="black", lw=1.0))
fig.text(fx(30), fy(678), "Diagramme des ensembles GEFS sur 384h : 51.1N 5.7E",
         family=mono, fontsize=8.6, fontweight="bold", va="center")
fig.text(fx(30), fy(691), "Température 2m (°C) , précipitations (mm)",
         family=mono, fontsize=7.5, va="center")
fig.text(fx(450), fy(671), "Ensemble GFS du 22/11/2008 - 12h",
         family=mono, fontsize=7.8, va="center")
fig.text(fx(450), fy(692), "Copyright 2007 Meteociel.fr",
         family=mono, fontsize=8.5, fontweight="bold", va="center")

fig.savefig("out.png", dpi=100, facecolor="white")
